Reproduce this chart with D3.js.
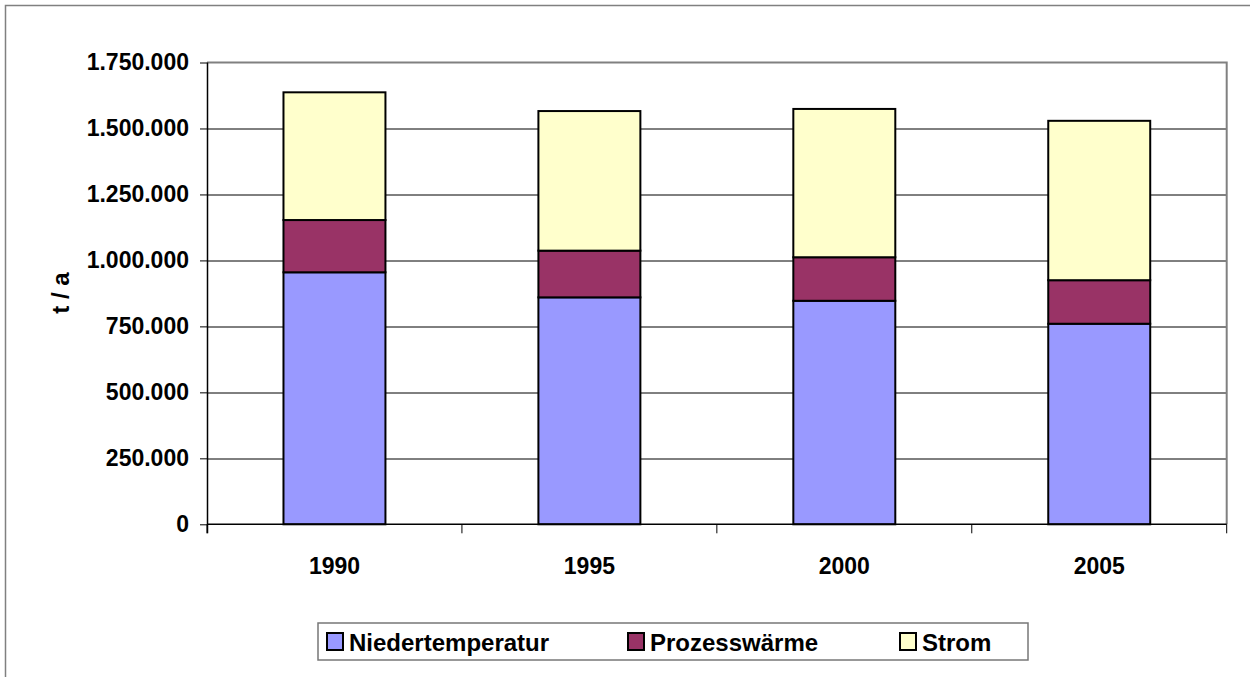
<!DOCTYPE html>
<html>
  <head>
    <meta charset="UTF-8">
    <style>
      body {
        margin: 0;
        background: white;
        font-family: "Liberation Sans", Arial, Helvetica, sans-serif;
      }

      text {
        font-weight: bold;
        fill: #000;
      }

      .y-axis text,
      .x-axis text {
        font-size: 23px;
      }

      .legend text {
        font-size: 24px;
      }
    </style>
    <script src="https://d3js.org/d3.v7.min.js"></script>
  </head>

  <body>
    <svg id="chart"></svg>

    <script type="text/javascript">
      // values (t / a)
      const years = ['1990', '1995', '2000', '2005']
      const niedertemperatur = [955000, 860000, 847000, 760000]
      const prozesswaerme = [198000, 177000, 165000, 165000]
      const strom = [484000, 529000, 562000, 604000]

      const seriesNames = ['Niedertemperatur', 'Prozesswärme', 'Strom']
      const seriesColors = ['#9999ff', '#993366', '#ffffcc']
      const yTicks = [0, 250000, 500000, 750000, 1000000, 1250000, 1500000, 1750000]

      function getChartConfig() {
        let width = 1250
        let height = 677
        let margin = { top: 62.5, bottom: 152.7, left: 207, right: 23.3 }
        let bodyWidth = width - margin.left - margin.right
        let bodyHeight = height - margin.top - margin.bottom

        let container = d3.select('#chart')
          .attr('width', width)
          .attr('height', height)

        return { width, height, margin, bodyWidth, bodyHeight, container }
      }

      function getScales(config) {
        let xScale = d3.scaleBand()
          .domain(years)
          .range([0, config.bodyWidth])
          .paddingInner(0.6)
          .paddingOuter(0.3)

        let yScale = d3.scaleLinear()
          .domain([0, 1750000])
          .range([config.bodyHeight, 0])

        let colorScale = d3.scaleOrdinal()
          .domain(seriesNames)
          .range(seriesColors)

        return { xScale, yScale, colorScale }
      }

      function buildRows() {
        return years.map((year, i) => ({
          year: year,
          'Niedertemperatur': niedertemperatur[i],
          'Prozesswärme': prozesswaerme[i],
          'Strom': strom[i]
        }))
      }

      function drawFrame(config) {
        // outer chart border, cut off at right and bottom
        config.container.append('rect')
          .attr('x', 5.5)
          .attr('y', 5.5)
          .attr('width', config.width + 20)
          .attr('height', config.height + 20)
          .attr('fill', 'none')
          .attr('stroke', '#808080')
          .attr('stroke-width', 1.5)
      }

      function drawGrid(scales, config, g) {
        g.append('g')
          .attr('class', 'grid')
          .selectAll('line')
          .data(yTicks.filter(d => d > 0 && d < 1750000))
          .join('line')
            .attr('x1', 0)
            .attr('x2', config.bodyWidth)
            .attr('y1', d => Math.round(scales.yScale(d)) + 0.5)
            .attr('y2', d => Math.round(scales.yScale(d)) + 0.5)
            .attr('stroke', '#000')
            .attr('stroke-width', 1)

        // plot area border top / right
        g.append('path')
          .attr('d', `M0,0H${config.bodyWidth}V${config.bodyHeight}`)
          .attr('fill', 'none')
          .attr('stroke', '#808080')
          .attr('stroke-width', 2)
      }

      function drawBars(rows, scales, g) {
        let stack = d3.stack().keys(seriesNames)
        let layers = stack(rows)

        g.selectAll('.layer')
          .data(layers)
          .join('g')
            .attr('class', 'layer')
            .attr('fill', d => scales.colorScale(d.key))
          .selectAll('rect')
          .data(d => d)
          .join('rect')
            .attr('x', d => scales.xScale(d.data.year))
            .attr('width', scales.xScale.bandwidth())
            .attr('y', d => scales.yScale(d[1]))
            .attr('height', d => scales.yScale(d[0]) - scales.yScale(d[1]))
            .attr('stroke', '#000')
            .attr('stroke-width', 2)
      }

      function drawAxes(scales, config, g) {
        let germanLocale = d3.formatLocale({
          decimal: ',',
          thousands: '.',
          grouping: [3],
          currency: ['', ' €']
        })
        let fmt = germanLocale.format(',d')

        let axisY = d3.axisLeft(scales.yScale)
          .tickValues(yTicks)
          .tickFormat(fmt)
          .tickSize(7)
          .tickPadding(11)

        let yAxis = g.append('g')
          .attr('class', 'y-axis')
          .call(axisY)
        yAxis.select('.domain').remove()
        yAxis.selectAll('.tick line').attr('stroke', '#000').attr('stroke-width', 1)

        g.append('line')
          .attr('x1', 0.5).attr('x2', 0.5)
          .attr('y1', 0).attr('y2', config.bodyHeight + 9)
          .attr('stroke', '#000')
          .attr('stroke-width', 1.5)

        let axisX = d3.axisBottom(scales.xScale)
          .tickSize(0)
          .tickPadding(33)

        let xAxis = g.append('g')
          .attr('class', 'x-axis')
          .attr('transform', `translate(0, ${config.bodyHeight})`)
          .call(axisX)
        xAxis.select('.domain').remove()

        // category boundary ticks
        let step = scales.xScale.step()
        let boundaries = years.map(y => scales.xScale(y) - step * 0.3)
        boundaries.push(scales.xScale(years[years.length - 1]) + scales.xScale.bandwidth() + step * 0.3)
        xAxis.selectAll('.boundary')
          .data(boundaries)
          .join('line')
            .attr('class', 'boundary')
            .attr('x1', d => d).attr('x2', d => d)
            .attr('y1', 0).attr('y2', 9)
            .attr('stroke', '#000')

        xAxis.append('line')
          .attr('x1', 0).attr('x2', config.bodyWidth)
          .attr('y1', 0).attr('y2', 0)
          .attr('stroke', '#000')
          .attr('stroke-width', 1.5)

        config.container.append('text')
          .attr('transform', 'translate(69, 293) rotate(-90)')
          .attr('text-anchor', 'middle')
          .style('font-size', '24px')
          .text('t / a')
      }

      function drawLegend(scales, config) {
        let g = config.container.append('g')
          .attr('class', 'legend')

        g.append('rect')
          .attr('x', 318)
          .attr('y', 623)
          .attr('width', 710)
          .attr('height', 37)
          .attr('fill', 'white')
          .attr('stroke', '#777')
          .attr('stroke-width', 1.5)

        let itemX = [326, 627, 899]

        let items = g.selectAll('.item')
          .data(seriesNames)
          .join('g')
            .attr('class', 'item')
            .attr('transform', (d, i) => `translate(${itemX[i]}, 632)`)

        items.append('rect')
          .attr('width', 16)
          .attr('height', 17)
          .attr('x', 1)
          .attr('y', 1)
          .attr('fill', d => scales.colorScale(d))
          .attr('stroke', '#000')
          .attr('stroke-width', 2)

        items.append('text')
          .attr('x', 23)
          .attr('y', 18.5)
          .text(d => d)
      }

      function showChart() {
        let config = getChartConfig()
        let scales = getScales(config)
        let rows = buildRows()

        drawFrame(config)

        let g = config.container.append('g')
          .attr('transform', `translate(${config.margin.left}, ${config.margin.top})`)

        drawGrid(scales, config, g)
        drawBars(rows, scales, g)
        drawAxes(scales, config, g)
        drawLegend(scales, config)
      }

      showChart()
    </script>
  </body>
</html>
